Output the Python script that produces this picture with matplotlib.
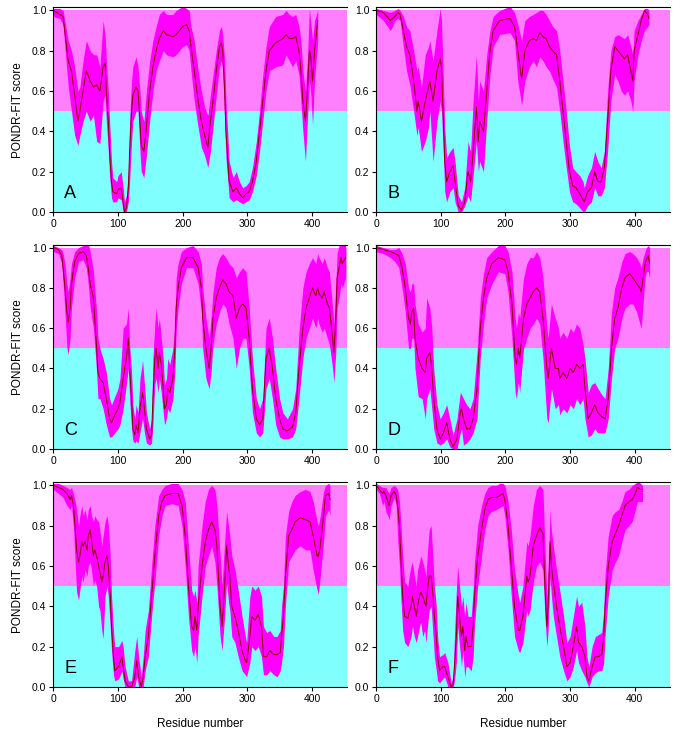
import matplotlib
matplotlib.use("Agg")
import matplotlib.pyplot as plt

plt.rcParams["font.family"] = ["Liberation Sans", "DejaVu Sans"]

# ---- panel A ----
a_x = [0, 10, 15, 23, 28, 33, 38, 41, 46, 51, 57, 62, 67, 72, 77, 80, 82, 85, 87, 90, 92, 98, 100, 105, 108, 110,
       113, 116, 118, 121, 123, 128, 131, 134, 136, 140, 144, 149, 154, 159, 164, 170, 175, 185, 190, 195, 200, 206,
       210, 213, 218, 224, 229, 234, 239, 243, 247, 252, 257, 260, 262, 265, 267, 270, 272, 278, 283, 288, 293, 298,
       303, 308, 314, 319, 324, 329, 334, 344, 355, 360, 365, 370, 375, 380, 383, 386, 390, 393, 396, 398, 401, 404, 409]
a_mean = [1.0, 0.98, 0.97, 0.75, 0.70, 0.58, 0.45, 0.50, 0.60, 0.70, 0.65, 0.62, 0.63, 0.60, 0.72, 0.74, 0.60, 0.45,
          0.30, 0.15, 0.10, 0.09, 0.11, 0.12, 0.05, 0.0, 0.02, 0.12, 0.30, 0.50, 0.58, 0.62, 0.60, 0.45, 0.33, 0.30,
          0.42, 0.60, 0.72, 0.80, 0.86, 0.90, 0.88, 0.87, 0.88, 0.90, 0.92, 0.93, 0.90, 0.82, 0.70, 0.55, 0.45, 0.38,
          0.32, 0.45, 0.55, 0.70, 0.82, 0.84, 0.80, 0.60, 0.40, 0.25, 0.15, 0.10, 0.12, 0.09, 0.07, 0.09, 0.10, 0.15,
          0.25, 0.40, 0.55, 0.70, 0.80, 0.84, 0.86, 0.88, 0.86, 0.86, 0.87, 0.80, 0.70, 0.55, 0.45, 0.60, 0.80, 0.78,
          0.65, 0.80, 0.95]
a_lo = [0.97, 0.96, 0.93, 0.62, 0.50, 0.38, 0.33, 0.38, 0.45, 0.50, 0.45, 0.48, 0.35, 0.34, 0.55, 0.58, 0.45, 0.30,
        0.18, 0.07, 0.05, 0.05, 0.07, 0.06, 0.0, 0.0, 0.0, 0.05, 0.15, 0.35, 0.45, 0.50, 0.50, 0.30, 0.20, 0.17,
        0.28, 0.45, 0.60, 0.70, 0.75, 0.80, 0.78, 0.77, 0.78, 0.80, 0.82, 0.83, 0.80, 0.70, 0.55, 0.42, 0.32, 0.28,
        0.22, 0.30, 0.42, 0.58, 0.72, 0.75, 0.70, 0.45, 0.27, 0.15, 0.07, 0.05, 0.06, 0.05, 0.04, 0.05, 0.06, 0.10,
        0.18, 0.30, 0.45, 0.60, 0.70, 0.72, 0.73, 0.78, 0.75, 0.72, 0.75, 0.68, 0.55, 0.40, 0.25, 0.45, 0.65, 0.60,
        0.43, 0.65, 0.85]
a_hi = [1.01, 1.01, 1.0, 0.85, 0.80, 0.72, 0.60, 0.62, 0.75, 0.85, 0.80, 0.78, 0.78, 0.72, 0.95, 0.88, 0.75, 0.60,
        0.45, 0.25, 0.17, 0.15, 0.18, 0.20, 0.12, 0.05, 0.08, 0.20, 0.45, 0.65, 0.72, 0.77, 0.72, 0.60, 0.50, 0.45,
        0.60, 0.75, 0.85, 0.92, 0.98, 1.0, 0.98, 0.98, 1.0, 1.01, 1.02, 1.01, 1.0, 0.92, 0.85, 0.70, 0.60, 0.52,
        0.48, 0.58, 0.68, 0.80, 0.90, 0.92, 0.88, 0.75, 0.55, 0.38, 0.25, 0.17, 0.20, 0.15, 0.12, 0.13, 0.15, 0.22,
        0.35, 0.50, 0.68, 0.82, 0.92, 0.97, 0.98, 1.0, 0.98, 0.97, 0.98, 0.92, 0.85, 0.70, 0.60, 0.75, 1.01, 0.95,
        0.85, 0.95, 1.0]

# ---- panel B ----
b_x = [0, 11, 22, 29, 34, 37, 42, 47, 52, 58, 63, 65, 70, 76, 81, 83, 88, 94, 99, 101, 104, 106, 109, 114, 119, 122,
       127, 132, 137, 142, 146, 150, 155, 158, 160, 166, 171, 176, 181, 191, 207, 214, 219, 225, 230, 237, 243, 248,
       253, 258, 263, 268, 273, 279, 284, 289, 294, 299, 304, 309, 315, 320, 322, 327, 333, 338, 343, 348, 353, 358,
       363, 369, 374, 379, 384, 389, 394, 397, 399, 405, 410, 415, 420, 422]
b_mean = [1.0, 0.99, 0.95, 0.97, 0.99, 0.98, 0.90, 0.82, 0.78, 0.65, 0.50, 0.55, 0.45, 0.55, 0.62, 0.65, 0.55, 0.70,
          0.76, 0.72, 0.45, 0.25, 0.15, 0.20, 0.23, 0.15, 0.03, 0.01, 0.05, 0.20, 0.15, 0.30, 0.52, 0.35, 0.45, 0.40,
          0.60, 0.80, 0.90, 0.95, 0.96, 0.92, 0.80, 0.66, 0.80, 0.85, 0.86, 0.85, 0.89, 0.87, 0.86, 0.82, 0.80, 0.78,
          0.65, 0.50, 0.35, 0.20, 0.13, 0.12, 0.09, 0.06, 0.05, 0.10, 0.12, 0.20, 0.15, 0.15, 0.22, 0.45, 0.70, 0.82,
          0.80, 0.78, 0.76, 0.78, 0.70, 0.65, 0.80, 0.88, 0.95, 1.0, 0.98, 0.96]
b_lo = [0.98, 0.95, 0.90, 0.95, 0.96, 0.95, 0.82, 0.70, 0.63, 0.50, 0.38, 0.42, 0.30, 0.35, 0.42, 0.50, 0.25, 0.45,
        0.55, 0.50, 0.28, 0.10, 0.05, 0.10, 0.12, 0.05, 0.0, 0.0, 0.03, 0.08, 0.05, 0.18, 0.35, 0.20, 0.25, 0.20,
        0.45, 0.68, 0.82, 0.88, 0.89, 0.85, 0.65, 0.53, 0.65, 0.72, 0.75, 0.72, 0.77, 0.75, 0.72, 0.70, 0.66, 0.62,
        0.50, 0.35, 0.22, 0.10, 0.05, 0.04, 0.02, 0.0, 0.0, 0.03, 0.05, 0.12, 0.08, 0.08, 0.12, 0.30, 0.55, 0.68,
        0.65, 0.60, 0.58, 0.60, 0.55, 0.50, 0.65, 0.78, 0.85, 0.90, 0.92, 0.93]
b_hi = [1.01, 1.0, 0.99, 1.0, 1.01, 1.0, 0.97, 0.92, 0.90, 0.80, 0.70, 0.72, 0.62, 0.78, 0.82, 0.85, 0.75, 0.90,
        1.01, 0.95, 0.65, 0.42, 0.27, 0.30, 0.32, 0.25, 0.08, 0.05, 0.12, 0.35, 0.30, 0.55, 0.78, 0.55, 0.65, 0.60,
        0.78, 0.90, 0.97, 1.0, 1.02, 0.99, 0.93, 0.85, 0.95, 0.97, 0.98, 0.99, 1.0, 1.0, 0.98, 0.95, 0.92, 0.90,
        0.80, 0.65, 0.50, 0.33, 0.22, 0.20, 0.18, 0.15, 0.12, 0.18, 0.22, 0.30, 0.25, 0.22, 0.30, 0.60, 0.80, 0.87,
        0.88, 0.87, 0.86, 0.88, 0.82, 0.78, 0.90, 0.95, 0.98, 1.01, 1.01, 1.0]

# ---- panel C ----
c_x = [0, 8, 13, 15, 18, 21, 23, 26, 28, 33, 39, 46, 51, 54, 57, 62, 67, 69, 72, 77, 82, 87, 90, 95, 100, 103, 108,
       113, 116, 118, 121, 123, 126, 128, 131, 134, 138, 141, 144, 149, 152, 154, 157, 159, 162, 164, 167, 170, 172,
       175, 177, 180, 185, 188, 190, 193, 198, 206, 216, 224, 229, 231, 236, 241, 244, 247, 252, 257, 262, 267, 272,
       278, 283, 288, 293, 298, 303, 308, 314, 319, 324, 329, 334, 339, 344, 350, 355, 362, 370, 375, 380, 386, 391,
       396, 401, 406, 409, 411, 416, 419, 424, 427, 432, 434, 437, 439, 442, 445, 447, 452]
c_mean = [1.0, 0.99, 0.96, 0.90, 0.80, 0.68, 0.63, 0.70, 0.82, 0.93, 0.97, 0.98, 0.96, 0.90, 0.82, 0.75, 0.50, 0.38,
          0.35, 0.33, 0.25, 0.15, 0.13, 0.17, 0.20, 0.23, 0.35, 0.45, 0.55, 0.40, 0.25, 0.10, 0.07, 0.12, 0.08, 0.20,
          0.28, 0.20, 0.10, 0.05, 0.07, 0.25, 0.45, 0.50, 0.40, 0.48, 0.42, 0.30, 0.20, 0.22, 0.30, 0.28, 0.35, 0.50,
          0.70, 0.80, 0.90, 0.95, 0.95, 0.90, 0.80, 0.65, 0.50, 0.40, 0.50, 0.65, 0.75, 0.80, 0.84, 0.82, 0.78, 0.76,
          0.65, 0.70, 0.72, 0.70, 0.55, 0.30, 0.15, 0.12, 0.15, 0.45, 0.50, 0.40, 0.25, 0.15, 0.10, 0.09, 0.11, 0.18,
          0.40, 0.60, 0.70, 0.75, 0.80, 0.76, 0.80, 0.77, 0.75, 0.78, 0.72, 0.70, 0.55, 0.48, 0.65, 0.85, 0.90, 0.95,
          0.92, 0.95]
c_lo = [0.98, 0.97, 0.92, 0.83, 0.68, 0.50, 0.47, 0.55, 0.70, 0.85, 0.93, 0.94, 0.90, 0.82, 0.70, 0.60, 0.38, 0.25,
        0.25, 0.20, 0.12, 0.06, 0.06, 0.08, 0.10, 0.12, 0.20, 0.32, 0.40, 0.25, 0.10, 0.04, 0.03, 0.04, 0.03, 0.08,
        0.15, 0.08, 0.03, 0.02, 0.03, 0.12, 0.32, 0.35, 0.28, 0.35, 0.28, 0.18, 0.12, 0.15, 0.20, 0.18, 0.25, 0.38,
        0.58, 0.70, 0.82, 0.90, 0.90, 0.82, 0.68, 0.50, 0.35, 0.30, 0.38, 0.52, 0.62, 0.68, 0.72, 0.70, 0.62, 0.55,
        0.40, 0.50, 0.55, 0.55, 0.40, 0.18, 0.08, 0.06, 0.08, 0.30, 0.35, 0.25, 0.12, 0.06, 0.05, 0.05, 0.06, 0.10,
        0.25, 0.45, 0.55, 0.60, 0.65, 0.60, 0.65, 0.62, 0.58, 0.60, 0.55, 0.52, 0.40, 0.33, 0.48, 0.70, 0.75, 0.82,
        0.80, 0.85]
c_hi = [1.01, 1.0, 0.99, 0.97, 0.92, 0.82, 0.78, 0.85, 0.92, 0.98, 1.0, 1.01, 1.01, 1.02, 0.98, 0.88, 0.68, 0.55,
        0.50, 0.45, 0.38, 0.25, 0.22, 0.26, 0.30, 0.35, 0.60, 0.62, 0.70, 0.52, 0.38, 0.22, 0.15, 0.22, 0.18, 0.35,
        0.44, 0.32, 0.18, 0.10, 0.15, 0.45, 0.62, 0.70, 0.60, 0.65, 0.55, 0.45, 0.32, 0.35, 0.45, 0.42, 0.50, 0.65,
        0.85, 0.92, 0.98, 1.0, 1.01, 0.98, 0.92, 0.80, 0.65, 0.55, 0.65, 0.78, 0.90, 0.95, 0.97, 0.95, 0.92, 0.90,
        0.85, 0.88, 0.90, 0.88, 0.70, 0.45, 0.25, 0.20, 0.25, 0.60, 0.65, 0.55, 0.40, 0.25, 0.18, 0.15, 0.20, 0.30,
        0.58, 0.80, 0.88, 0.92, 0.95, 0.92, 0.97, 0.95, 0.92, 0.95, 0.90, 0.88, 0.70, 0.62, 0.82, 0.97, 1.01, 1.02,
        1.02, 1.02]

# ---- panel D ----
d_x = [0, 11, 22, 29, 35, 40, 45, 50, 53, 55, 58, 60, 65, 71, 76, 78, 83, 86, 89, 94, 99, 104, 109, 114, 119, 125,
       130, 132, 135, 140, 145, 150, 156, 161, 166, 171, 179, 189, 199, 204, 210, 215, 217, 220, 222, 228, 233, 238,
       243, 248, 253, 258, 264, 266, 271, 277, 282, 284, 289, 295, 300, 305, 310, 315, 320, 323, 328, 333, 338, 343,
       349, 354, 359, 364, 369, 374, 380, 385, 392, 397, 403, 408, 410, 413, 416, 418, 421, 423]
d_mean = [1.0, 0.99, 0.98, 0.97, 0.96, 0.90, 0.80, 0.65, 0.62, 0.68, 0.70, 0.55, 0.45, 0.40, 0.38, 0.45, 0.48, 0.40,
          0.25, 0.10, 0.05, 0.08, 0.13, 0.05, 0.01, 0.05, 0.18, 0.20, 0.15, 0.10, 0.10, 0.15, 0.30, 0.60, 0.75, 0.85,
          0.92, 0.95, 0.94, 0.88, 0.72, 0.45, 0.42, 0.50, 0.45, 0.65, 0.72, 0.75, 0.78, 0.80, 0.78, 0.65, 0.40, 0.35,
          0.50, 0.40, 0.40, 0.35, 0.38, 0.35, 0.40, 0.38, 0.42, 0.40, 0.42, 0.30, 0.15, 0.18, 0.22, 0.18, 0.16, 0.15,
          0.25, 0.50, 0.65, 0.70, 0.80, 0.85, 0.87, 0.85, 0.82, 0.80, 0.78, 0.85, 0.92, 0.94, 0.96, 0.92]
d_lo = [0.98, 0.97, 0.95, 0.93, 0.90, 0.80, 0.68, 0.50, 0.50, 0.55, 0.55, 0.40, 0.26, 0.25, 0.15, 0.25, 0.30, 0.20,
        0.10, 0.03, 0.02, 0.03, 0.05, 0.01, 0.0, 0.0, 0.08, 0.10, 0.02, 0.03, 0.05, 0.08, 0.15, 0.45, 0.62, 0.75,
        0.82, 0.88, 0.87, 0.78, 0.55, 0.28, 0.25, 0.33, 0.28, 0.50, 0.55, 0.60, 0.62, 0.65, 0.62, 0.45, 0.15, 0.13,
        0.30, 0.20, 0.22, 0.17, 0.20, 0.18, 0.22, 0.20, 0.25, 0.22, 0.25, 0.15, 0.06, 0.07, 0.10, 0.08, 0.08, 0.08,
        0.15, 0.35, 0.50, 0.55, 0.65, 0.70, 0.72, 0.72, 0.68, 0.62, 0.60, 0.73, 0.85, 0.88, 0.88, 0.85]
d_hi = [1.01, 1.0, 0.99, 0.99, 1.0, 0.97, 0.92, 0.80, 0.78, 0.82, 0.82, 0.72, 0.62, 0.58, 0.60, 0.75, 0.70, 0.60,
        0.40, 0.22, 0.15, 0.18, 0.22, 0.15, 0.07, 0.15, 0.28, 0.27, 0.25, 0.22, 0.20, 0.25, 0.48, 0.75, 0.87, 0.95,
        0.98, 1.01, 1.01, 0.98, 0.88, 0.65, 0.60, 0.68, 0.65, 0.85, 0.92, 0.95, 0.95, 0.98, 0.95, 0.85, 0.60, 0.55,
        0.72, 0.65, 0.60, 0.55, 0.58, 0.55, 0.60, 0.58, 0.62, 0.60, 0.52, 0.45, 0.28, 0.32, 0.33, 0.30, 0.27, 0.25,
        0.40, 0.68, 0.80, 0.85, 0.93, 0.97, 0.98, 0.97, 0.95, 0.92, 0.90, 0.95, 0.98, 1.0, 1.01, 1.0]

# ---- panel E ----
e_x = [0, 8, 15, 21, 26, 28, 31, 34, 36, 39, 41, 44, 46, 49, 52, 54, 57, 59, 62, 64, 67, 70, 72, 75, 77, 80, 83, 85,
       88, 90, 93, 95, 101, 106, 108, 111, 116, 121, 126, 129, 132, 136, 139, 142, 147, 152, 157, 163, 168, 173, 183,
       193, 199, 204, 209, 214, 217, 219, 222, 224, 230, 235, 240, 245, 250, 253, 258, 261, 265, 268, 271, 273, 276,
       281, 286, 292, 297, 299, 304, 307, 312, 317, 322, 325, 330, 335, 341, 346, 351, 353, 356, 359, 364, 369, 374,
       382, 390, 397, 402, 408, 410, 413, 418, 421, 426, 428]
e_mean = [1.0, 0.99, 0.98, 0.96, 0.93, 0.95, 0.90, 0.78, 0.68, 0.62, 0.65, 0.72, 0.70, 0.72, 0.68, 0.75, 0.78, 0.73,
          0.65, 0.68, 0.65, 0.60, 0.57, 0.52, 0.55, 0.62, 0.65, 0.60, 0.45, 0.30, 0.15, 0.08, 0.10, 0.15, 0.10, 0.03,
          0.0, 0.0, 0.05, 0.13, 0.05, 0.0, 0.05, 0.15, 0.25, 0.45, 0.65, 0.85, 0.92, 0.95, 0.96, 0.96, 0.90, 0.75,
          0.50, 0.30, 0.28, 0.35, 0.28, 0.40, 0.60, 0.72, 0.78, 0.82, 0.78, 0.70, 0.40, 0.30, 0.50, 0.70, 0.60, 0.55,
          0.40, 0.35, 0.28, 0.18, 0.13, 0.12, 0.25, 0.35, 0.33, 0.36, 0.30, 0.15, 0.15, 0.18, 0.16, 0.16, 0.17, 0.25,
          0.35, 0.55, 0.75, 0.78, 0.82, 0.84, 0.83, 0.82, 0.75, 0.65, 0.65, 0.70, 0.85, 0.95, 0.96, 0.93]
e_lo = [0.98, 0.96, 0.94, 0.90, 0.88, 0.90, 0.80, 0.60, 0.47, 0.43, 0.48, 0.55, 0.52, 0.58, 0.55, 0.60, 0.62, 0.58,
        0.50, 0.53, 0.50, 0.40, 0.38, 0.28, 0.24, 0.45, 0.50, 0.45, 0.30, 0.18, 0.06, 0.03, 0.04, 0.08, 0.04, 0.0,
        0.0, 0.0, 0.0, 0.05, 0.0, 0.0, 0.0, 0.08, 0.15, 0.35, 0.52, 0.75, 0.85, 0.90, 0.91, 0.90, 0.80, 0.60,
        0.35, 0.18, 0.15, 0.20, 0.12, 0.25, 0.45, 0.60, 0.65, 0.70, 0.62, 0.50, 0.25, 0.18, 0.35, 0.52, 0.42, 0.38,
        0.25, 0.22, 0.15, 0.08, 0.06, 0.05, 0.12, 0.20, 0.18, 0.20, 0.15, 0.06, 0.06, 0.08, 0.06, 0.05, 0.08, 0.12,
        0.20, 0.40, 0.62, 0.65, 0.68, 0.70, 0.68, 0.68, 0.58, 0.48, 0.46, 0.55, 0.72, 0.85, 0.88, 0.85]
e_hi = [1.01, 1.01, 1.0, 0.99, 0.98, 0.99, 0.96, 0.92, 0.88, 0.80, 0.85, 0.90, 0.85, 0.88, 0.83, 0.88, 0.90, 0.85,
        0.82, 0.85, 0.83, 0.82, 0.78, 0.70, 0.75, 0.82, 0.85, 0.80, 0.65, 0.45, 0.28, 0.20, 0.20, 0.23, 0.20, 0.10,
        0.03, 0.03, 0.18, 0.25, 0.15, 0.05, 0.15, 0.28, 0.38, 0.60, 0.80, 0.95, 0.98, 1.0, 1.01, 1.01, 0.98, 0.92,
        0.70, 0.48, 0.45, 0.48, 0.42, 0.60, 0.80, 0.92, 0.98, 1.0, 0.98, 0.90, 0.65, 0.50, 0.72, 0.87, 0.80, 0.75,
        0.65, 0.58, 0.48, 0.35, 0.25, 0.22, 0.45, 0.50, 0.48, 0.50, 0.45, 0.30, 0.27, 0.28, 0.25, 0.25, 0.28, 0.40,
        0.50, 0.75, 0.87, 0.92, 0.95, 0.97, 0.98, 0.97, 0.92, 0.82, 0.80, 0.85, 0.97, 1.0, 1.01, 1.0]

# ---- panel F ----
f_x = [0, 5, 10, 12, 15, 18, 20, 23, 28, 31, 33, 36, 38, 41, 44, 49, 51, 54, 56, 59, 62, 64, 67, 69, 72, 75, 77, 80,
       82, 85, 88, 90, 93, 95, 98, 103, 106, 111, 116, 119, 121, 124, 126, 129, 132, 134, 137, 139, 142, 147, 150,
       152, 157, 163, 168, 173, 178, 186, 191, 196, 199, 204, 209, 214, 220, 222, 227, 233, 235, 238, 243, 248, 253,
       258, 261, 264, 266, 269, 271, 274, 279, 284, 290, 295, 300, 305, 310, 313, 318, 323, 326, 329, 334, 339, 344,
       349, 352, 354, 359, 365, 370, 375, 380, 385, 391, 396, 401, 404, 409, 412]
f_mean = [1.0, 0.98, 0.96, 0.97, 0.95, 0.92, 0.90, 0.95, 0.97, 0.95, 0.90, 0.80, 0.65, 0.45, 0.35, 0.34, 0.37, 0.40,
          0.45, 0.40, 0.35, 0.40, 0.45, 0.47, 0.45, 0.42, 0.40, 0.50, 0.55, 0.55, 0.45, 0.35, 0.25, 0.15, 0.08, 0.10,
          0.10, 0.05, 0.0, 0.01, 0.10, 0.25, 0.45, 0.35, 0.25, 0.30, 0.18, 0.25, 0.20, 0.20, 0.30, 0.45, 0.65, 0.78,
          0.88, 0.93, 0.94, 0.94, 0.95, 0.96, 0.93, 0.80, 0.60, 0.40, 0.28, 0.28, 0.35, 0.55, 0.52, 0.55, 0.70, 0.75,
          0.79, 0.76, 0.50, 0.30, 0.40, 0.72, 0.60, 0.52, 0.40, 0.30, 0.20, 0.10, 0.12, 0.20, 0.30, 0.22, 0.20, 0.15,
          0.05, 0.03, 0.10, 0.15, 0.15, 0.16, 0.25, 0.40, 0.60, 0.72, 0.76, 0.80, 0.85, 0.90, 0.92, 0.93, 0.96, 0.99,
          0.98, 0.98]
f_lo = [0.98, 0.96, 0.90, 0.92, 0.87, 0.85, 0.83, 0.90, 0.94, 0.90, 0.75, 0.60, 0.45, 0.28, 0.22, 0.20, 0.22, 0.25,
        0.30, 0.25, 0.22, 0.25, 0.30, 0.32, 0.25, 0.28, 0.22, 0.32, 0.38, 0.40, 0.25, 0.15, 0.08, 0.03, 0.02, 0.04,
        0.05, 0.0, 0.0, 0.0, 0.03, 0.12, 0.30, 0.20, 0.10, 0.18, 0.05, 0.10, 0.10, 0.08, 0.15, 0.30, 0.50, 0.65,
        0.78, 0.85, 0.87, 0.88, 0.89, 0.90, 0.85, 0.68, 0.45, 0.25, 0.18, 0.17, 0.22, 0.38, 0.35, 0.38, 0.52, 0.60,
        0.62, 0.58, 0.35, 0.20, 0.28, 0.55, 0.45, 0.35, 0.25, 0.15, 0.08, 0.03, 0.05, 0.10, 0.18, 0.12, 0.08, 0.05,
        0.02, 0.0, 0.05, 0.07, 0.08, 0.08, 0.12, 0.25, 0.45, 0.58, 0.62, 0.65, 0.72, 0.78, 0.80, 0.82, 0.88, 0.92,
        0.92, 0.92]
f_hi = [1.01, 1.0, 0.99, 0.99, 0.99, 0.97, 0.96, 0.99, 1.0, 0.99, 0.98, 0.92, 0.82, 0.65, 0.52, 0.50, 0.55, 0.60,
        0.62, 0.55, 0.50, 0.58, 0.62, 0.65, 0.62, 0.58, 0.55, 0.70, 0.78, 0.80, 0.62, 0.50, 0.40, 0.25, 0.15, 0.16,
        0.17, 0.12, 0.02, 0.05, 0.25, 0.48, 0.60, 0.50, 0.40, 0.45, 0.35, 0.42, 0.35, 0.35, 0.48, 0.62, 0.80, 0.90,
        0.96, 0.99, 1.0, 1.0, 1.01, 1.01, 1.0, 0.92, 0.78, 0.58, 0.45, 0.42, 0.50, 0.72, 0.70, 0.75, 0.90, 0.98,
        1.0, 0.98, 0.70, 0.45, 0.58, 0.88, 0.78, 0.70, 0.58, 0.48, 0.35, 0.22, 0.25, 0.35, 0.45, 0.40, 0.42, 0.30,
        0.15, 0.10, 0.20, 0.25, 0.26, 0.27, 0.38, 0.55, 0.75, 0.85, 0.87, 0.88, 0.92, 0.97, 0.98, 1.0, 1.01, 1.02,
        1.01, 1.0]

panel_letters = ["A", "B", "C", "D", "E", "F"]
xticks = [0, 100, 200, 300, 400]
yticks = [0.0, 0.2, 0.4, 0.6, 0.8, 1.0]

series = [(a_x, a_mean, a_lo, a_hi), (b_x, b_mean, b_lo, b_hi), (c_x, c_mean, c_lo, c_hi),
          (d_x, d_mean, d_lo, d_hi), (e_x, e_mean, e_lo, e_hi), (f_x, f_mean, f_lo, f_hi)]

fig = plt.figure(figsize=(6.84, 7.41), dpi=100)

lefts = [0.078, 0.55]
bottoms = [0.714, 0.394, 0.073]
w, h = 0.43, 0.276

for i, (x, m, lo, hi) in enumerate(series):
    row, col = divmod(i, 2)
    ax = fig.add_axes([lefts[col], bottoms[row], w, h])
    ax.axhspan(0.5, 1.0, color="#ff80ff", lw=0, zorder=0)
    ax.axhspan(0.0, 0.5, color="#80ffff", lw=0, zorder=0)
    ax.fill_between(x, lo, hi, color="#ff00ff", lw=0, zorder=1)
    ax.plot(x, m, color="#8b0000", lw=0.7, zorder=2)
    ax.set_xlim(0, 455)
    ax.set_ylim(0, 1.015)
    ax.set_xticks(xticks)
    ax.set_yticks(yticks)
    ax.set_yticklabels(["%.1f" % t for t in yticks])
    ax.tick_params(labelsize=7.5, length=3, width=0.8, pad=2)
    ax.spines["right"].set_visible(False)
    for s in ["left", "bottom", "top"]:
        ax.spines[s].set_linewidth(0.8)
    ax.text(0.037, 0.05, panel_letters[i], transform=ax.transAxes, fontsize=13,
            ha="left", va="bottom", zorder=3)
    if col == 0:
        ax.set_ylabel("PONDR-FIT score", fontsize=8.5, labelpad=6)
    if row == 2:
        ax.set_xlabel("Residue number", fontsize=8.5, labelpad=10)

fig.savefig("out.png", dpi=100)
